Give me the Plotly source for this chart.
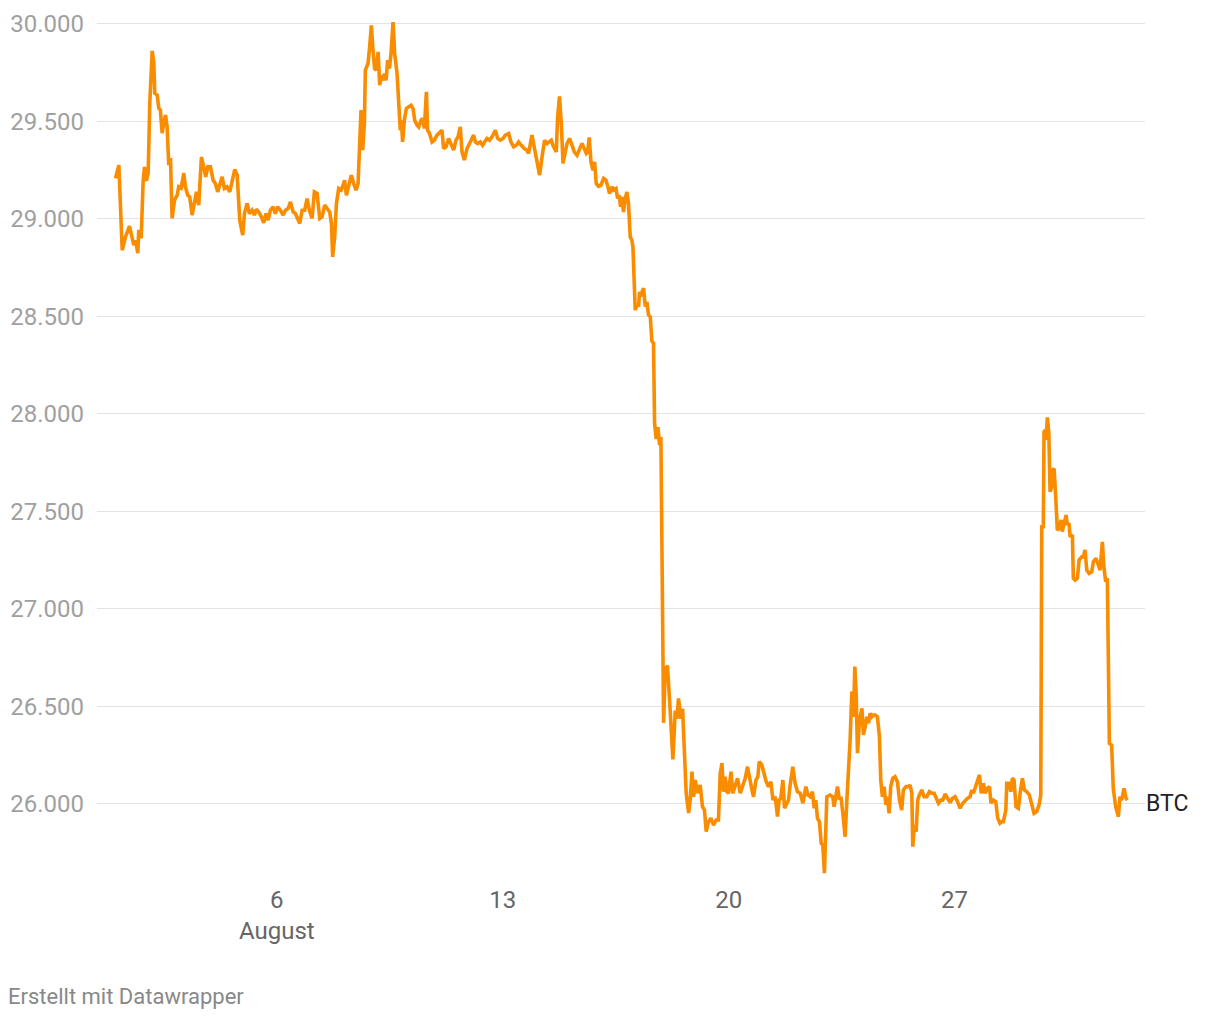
import pandas as pd
import plotly.graph_objects as go

# Time of each reading, in hours after 1 August 2023 00:00
hours = [
    0, 2.5, 5, 7.4, 10.4, 12.4, 13.6, 14.9, 16.6, 17.3, 19.1, 20.6, 21.6, 23, 24.3, 25.5, 27.3, 28.5,
    29.2, 31, 32.2, 33.4, 34.7, 35.9, 37.2, 38.4, 39.6, 40.9, 42.1, 43.9, 45.9, 47, 48.8, 50.8, 52,
    53.7, 55.2, 57, 58.7, 60.2, 61.9, 63.9, 65.6, 67.1, 68.6, 70.6, 72.6, 74.3, 76, 77.5, 79.3, 81,
    83, 85, 86.7, 88.7, 90.5, 92.4, 94.6, 95.9, 97.9, 99.6, 101.6, 103.3, 104.8, 106.5, 108.5, 110.2,
    112, 113.5, 115.2, 117.2, 118.9, 120.6, 122.6, 124.7, 126.4, 128.4, 130.1, 132.1, 133.8, 135.5,
    137, 138.8, 140.7, 142.5, 144.2, 146.2, 147.9, 149.9, 151.9, 153.6, 155.6, 157.4, 159.3, 160.6,
    161.5, 163, 164.3, 166, 167.8, 169.3, 170.4, 171.7, 173.4, 175.4, 177.1, 178.9, 180.4, 181.6,
    182.6, 183.8, 185.1, 185.8, 187.8, 189, 190.3, 191.5, 192.7, 194, 195.3, 196.5, 197.7, 199, 200,
    201.2, 202.4, 203.7, 204.9, 206.4, 207.6, 209.4, 210.6, 211.8, 212.6, 213.5, 214.8, 216.3, 218,
    219.8, 221.3, 222.5, 224.3, 225.5, 227.2, 228.4, 229.7, 231.2, 232.1, 233.6, 235.4, 237.1, 239.1,
    241.1, 242.8, 244, 245.8, 247.7, 249.5, 251.5, 253.2, 254.7, 256.4, 257.7, 259.4,
    261.4, 263.3, 265.1, 266.3, 267.6, 269.3, 271.3, 273, 274.5, 276.3, 278.2, 280, 282.5, 284.2,
    286.2, 288.2, 289.9, 292.4, 294.1, 296.1, 298.1, 299.8, 301.8, 304, 306, 307.2, 309.7, 311.4,
    312.9, 315.4, 317.2, 319.1, 320.9, 322.6, 324.1, 325.3, 326.5, 327.8, 328.8, 330.2, 331.5, 332.8,
    334.5, 335.8, 337.7, 339.5, 341.2, 343.2, 345.1, 346.9, 348.6, 350.1, 351.1, 352.3, 353.6, 355.1,
    356.3, 357.5, 359.2, 361, 363, 364.7, 366.2, 367.4, 369.2, 370.4, 372.2, 373.4, 374.6, 375.6,
    376.6, 377.8, 379.1, 380.3, 381.5, 382.8, 384, 384.8, 386.5, 387.8, 389, 389.7, 391, 392.7, 394,
    395.2, 396.4, 397.7, 398.9, 400.1, 400.9, 402.1, 403.4, 404.6, 405.6, 407.6, 408.8, 410.5, 412.5,
    414.5, 416.3, 417.5, 418.7, 420.5, 421.7, 422.9, 424.4, 426.2, 427.4, 428.7, 429.9, 431.1, 432.8,
    434.8, 436.5, 438, 439.3, 441, 442.8, 444.7, 446.7, 448.4, 449.7, 451, 452.1, 453.4, 454.7, 455.9,
    457.7, 459.1, 460.8, 462.6, 464.6, 466.6, 468.3, 470, 471.5, 473.3, 474.5, 476.3, 477.7, 478.7,
    480.7, 482.4, 483.9, 485.6, 487.4, 488.9, 490.6, 492.3, 493.5, 494.8, 496.3, 497.5, 499.3, 500.5,
    501.7, 503.7, 505.4, 507.2, 509.2, 511.2, 513.4, 514.9, 516.6, 518.3, 519.6, 520.8, 522, 523.5,
    524.8, 526, 527.2, 529, 531.4, 533.4, 534.4, 535.9, 536.9, 538.2, 539.6, 540.9, 542.6, 543.9,
    545.1, 546.3, 547.6, 548.8, 549.8, 550.8, 551.8, 553.3, 555.1, 556.2, 557.5, 558.7, 560, 561.2,
    562.5, 563.6, 564.9, 566.6, 568.1, 569.1, 570.3, 571.6, 572.9, 574, 575.3, 576.5, 578, 579.7,
    581.5, 583, 584.7, 585.9, 587.9, 589.7, 590.9, 592.2, 592.9, 594.1, 595.4, 596.6, 597.8, 599.6,
    601.3, 603.3, 605.3, 607, 608.8, 610.8, 612, 613.8, 615.2, 616.9, 618.7, 620.7, 622.4, 624.4,
    626.2, 628.1, 630.1, 631.8, 633.5, 635.5, 636.8, 638, 639.8, 641, 642.5, 643.8, 645.5, 646.7,
    648.4, 649.9, 651.1, 652.8, 654.6, 656.1, 657.8, 659.1, 660.3, 662.1, 662.8, 664.5, 665.8, 667,
    668.2, 669.7, 671.4, 672.7, 674.4, 675.9, 677.7, 679.6, 681.4, 683.1, 685.1, 686.8, 688.1, 688.8,
    690, 690.5, 691.5, 692, 693, 694.1, 695, 696.3, 697, 698, 699.2, 700.4, 701.9, 703.2, 704.1,
    705.4, 706.9, 707.9, 709.1, 709.9, 711.6, 712.3, 713.6, 715.3, 716.6, 718.6, 719.8, 721, 722.3,
    724, 726, 727.2, 729.2, 730.9, 732.2, 733.9, 735.1, 736.4, 737.6, 739.1, 740.8, 742, 743.8,
    745.8, 747, 748.3, 750, 751.5, 752.5,
]

# BTC price in USD at each reading
btc = [
    29207, 29275, 28839, 28907, 28962, 28907, 28865, 28890, 28824, 28942, 28900, 29198, 29266, 29195,
    29234, 29593, 29861, 29798, 29644, 29634, 29567, 29557, 29439, 29490, 29532, 29471, 29275, 29311,
    29003, 29096, 29121, 29164, 29157, 29234, 29164, 29121, 29112, 29019, 29087, 29138, 29070, 29317,
    29266, 29215, 29266, 29266, 29198, 29181, 29138, 29181, 29215, 29155, 29164, 29138, 29198, 29253,
    29224, 28993, 28916, 29027, 29079, 29027, 29044, 29019, 29049, 29035, 29010, 28979, 29027, 28993,
    29044, 29061, 29027, 29061, 29044, 29019, 29044, 29053, 29087, 29035, 29027, 28993,
    28976, 29044, 29044, 29104, 29044, 29002, 29138, 29130, 29002, 29010, 29070, 29053, 29035, 28976,
    28805, 28907, 29079, 29155, 29147, 29172, 29198, 29121, 29164, 29224, 29181, 29147, 29181, 29352,
    29557, 29352, 29489, 29762, 29796, 29881, 29992, 29864, 29770, 29762, 29856, 29685, 29736, 29710,
    29745, 29710, 29813, 29770, 29847, 30009, 29847, 29745, 29591, 29454, 29505, 29394, 29505, 29565,
    29574, 29582, 29565, 29505, 29480, 29471, 29505, 29514, 29463, 29651, 29454, 29437, 29394, 29403,
    29429, 29446, 29454, 29360, 29369, 29412, 29386, 29352, 29403, 29420, 29471, 29343, 29301,
    29360, 29386, 29412, 29429, 29394, 29386, 29394, 29377, 29394, 29412, 29403, 29420, 29454, 29412,
    29403, 29412, 29429, 29437, 29394, 29369, 29377, 29394, 29377, 29360, 29352, 29335, 29429, 29369,
    29292, 29224, 29317, 29403, 29386, 29394, 29403, 29377, 29360, 29343, 29522, 29628, 29489, 29284,
    29343, 29386, 29412, 29377, 29343, 29326, 29360, 29386, 29360, 29335, 29343, 29417, 29292, 29249,
    29292, 29181, 29167, 29172, 29207, 29198, 29164, 29130, 29164, 29147, 29155, 29104, 29121, 29061,
    29112, 29035, 29104, 29138, 29079, 28907, 28890, 28856, 28532, 28560, 28550, 28624, 28614, 28645,
    28550, 28573, 28508, 28497, 28373, 28363, 27953, 27871, 27932, 27840, 27881, 26416, 26688, 26709,
    26479, 26228, 26479, 26437, 26541, 26437, 26489, 26313, 26056, 25954, 26020, 26166, 26037, 26123,
    26056, 26097, 25986, 25969, 25858, 25909, 25927, 25892, 25918, 25918, 26157, 26209, 26063, 26140,
    26063, 26055, 26166, 26055, 26089, 26132, 26055, 26097, 26132, 26191, 26123, 26072, 26037, 26123,
    26140, 26217, 26200, 26157, 26114, 26089, 26114, 26020, 26037, 25935, 26020, 26029, 26123, 25978,
    26004, 26020, 26097, 26191, 26106, 26063, 26055, 26004, 26089, 26046, 26037, 26063, 25978, 26020,
    25927, 25909, 25799, 25790, 25645, 26037, 26046, 26037, 25986, 26037, 26089, 26029, 26029, 25952,
    25832, 26020, 26140, 26328, 26576, 26447, 26704, 26567, 26260, 26430, 26490, 26354, 26396, 26447,
    26414, 26465, 26447, 26456, 26456, 26447, 26345, 26123, 26037, 26089, 25995, 26037, 25952, 26089,
    26132, 26140, 26114, 26020, 25969, 26072, 26089, 26089, 26097, 26055, 25781, 25892, 25858, 26020,
    26046, 26072, 26037, 26037, 26063, 26055, 26055, 26020, 26004, 26020, 26020, 26051, 26029, 26007,
    26029, 26037, 26012, 25978, 26004, 26020, 26029, 26037, 26072, 26055, 26089, 26123, 26149, 26055,
    26106, 26055, 26080, 26089, 26004, 26020, 26012, 25927, 25901, 25909, 25909, 25969, 26106, 26106,
    26063, 26132, 26123, 25986, 25978, 26055, 26132, 26072, 26063, 26046, 25986, 25952, 25961, 25995,
    26046, 27421, 27421, 27908, 27917, 27866, 27982, 27900, 27601, 27626, 27712, 27720, 27575, 27404,
    27413, 27456, 27396, 27447, 27481, 27430, 27439, 27370, 27379, 27157, 27148, 27157, 27251, 27267,
    27267, 27302, 27199, 27182, 27190, 27242, 27259, 27225, 27199, 27344, 27208, 27139, 27157, 26311,
    26302, 26080, 25986, 25935, 26037, 26020, 26080, 26029, 26020,
]

series_name = "BTC"
y_ticks = [26000, 26500, 27000, 27500, 28000, 28500, 29000, 29500, 30000]
x_tick_dates = ["2023-08-06", "2023-08-13", "2023-08-20", "2023-08-27"]
x_tick_text = ["6<br>August", "13", "20", "27"]
footer = "Erstellt mit Datawrapper"

start = pd.Timestamp("2023-08-01 00:00")
times = [start + pd.Timedelta(hours=h) for h in hours]

fig = go.Figure()
fig.add_trace(go.Scatter(
    x=times, y=btc, mode="lines",
    line=dict(color="#fa8c00", width=3.6),
    hoverinfo="skip", showlegend=False,
))

fig.add_annotation(
    x=times[-1], y=btc[-1], text=series_name, showarrow=False,
    xanchor="left", yanchor="middle", xshift=17, yshift=-3,
    font=dict(family="Roboto", size=23, color="#222222"),
)
fig.add_annotation(
    x=-0.0873, y=-0.1324, xref="paper", yref="paper", xanchor="left", yanchor="middle",
    text=footer, showarrow=False,
    font=dict(family="Roboto", size=22, color="#888888"),
)

x_min = start - pd.Timedelta(hours=13.75)
x_max = start + pd.Timedelta(hours=765.6)

fig.update_layout(
    width=1220, height=1020,
    margin=dict(l=96.5, r=75, t=13.74, b=137.95, autoexpand=False),
    paper_bgcolor="white", plot_bgcolor="white",
    separators=",.",
    font=dict(family="Roboto", size=24, color="#999999"),
    xaxis=dict(
        range=[x_min, x_max], showgrid=False, zeroline=False, showline=False,
        tickmode="array", tickvals=[pd.Timestamp(d) for d in x_tick_dates], ticktext=x_tick_text,
        ticks="", ticklabelstandoff=1, automargin=False,
        tickfont=dict(family="Roboto", size=24, color="#666666"),
    ),
    yaxis=dict(
        range=[25600, 30050], tickmode="array", tickvals=y_ticks, tickformat=",.0f",
        showgrid=True, gridcolor="#e3e3e3", gridwidth=1, zeroline=False, showline=False,
        ticks="", ticklabelstandoff=12, automargin=False,
        tickfont=dict(family="Roboto", size=24, color="#a0a0a0"),
    ),
)

fig.write_html(
    "out.html",
    config={"displayModeBar": False},
    post_script="document.body.style.margin='0';document.body.style.overflow='hidden';",
)
